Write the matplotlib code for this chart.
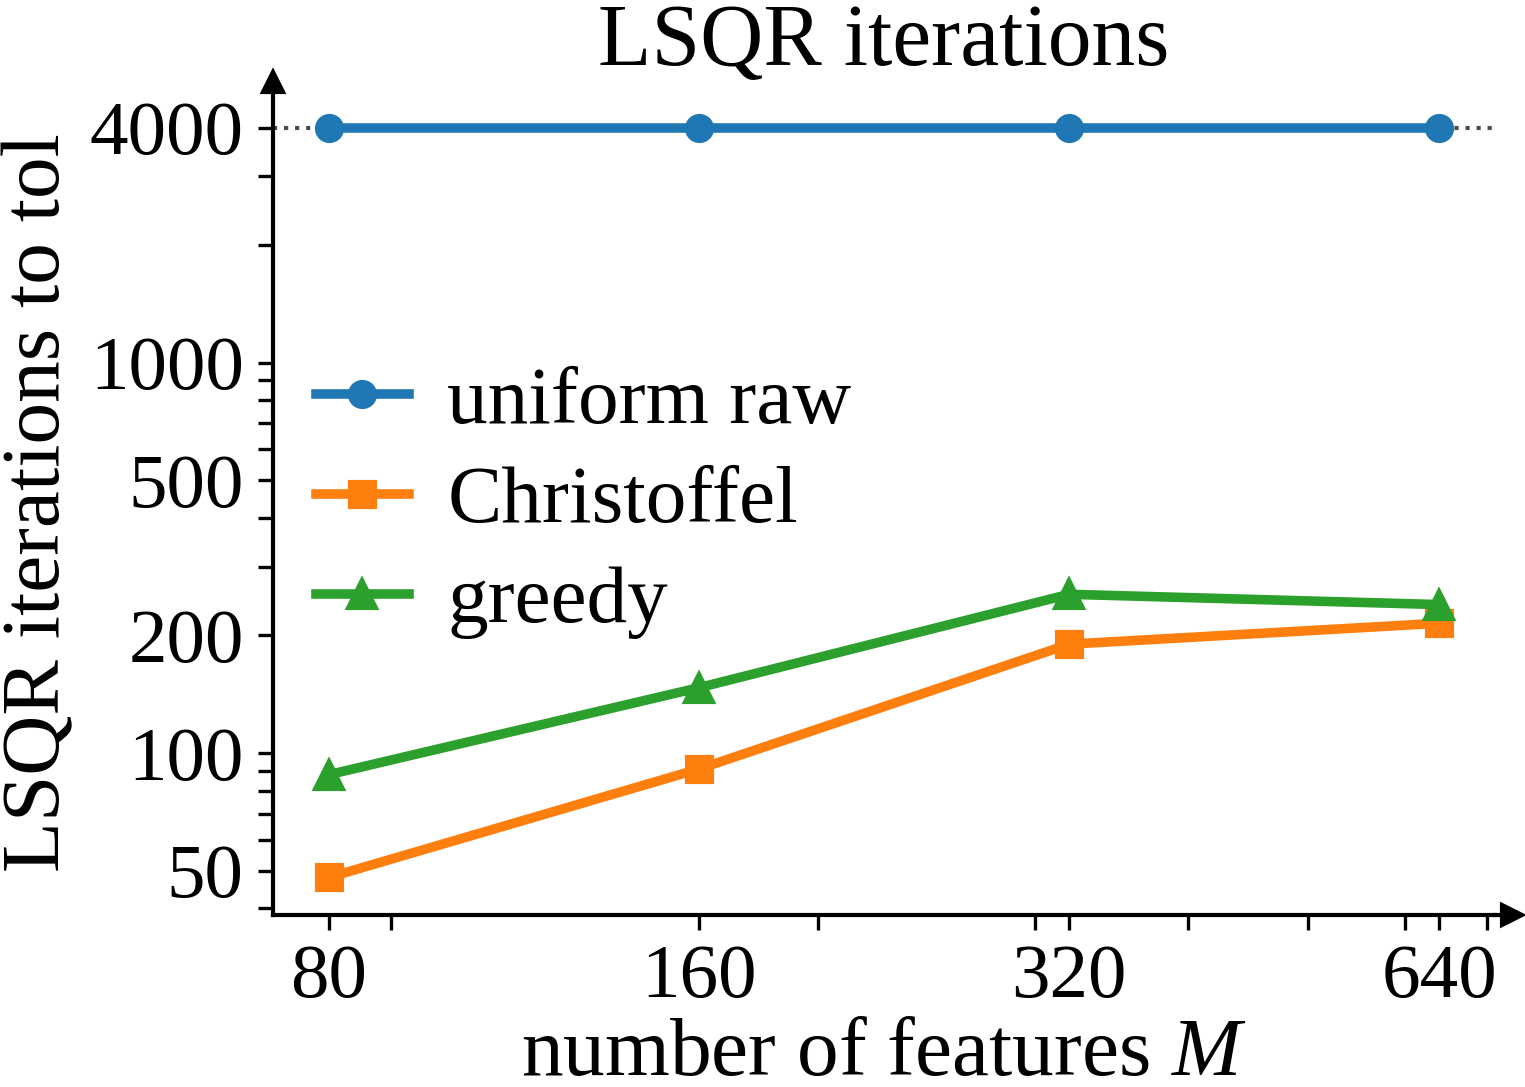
import matplotlib
matplotlib.use("Agg")
import matplotlib.pyplot as plt
from matplotlib.ticker import NullFormatter

plt.rcParams["font.family"] = ["Liberation Serif", "DejaVu Serif"]
plt.rcParams["mathtext.fontset"] = "custom"
plt.rcParams["mathtext.rm"] = "Liberation Serif"
plt.rcParams["mathtext.it"] = "Liberation Serif:italic"

# number of features
features = [80, 160, 320, 640]
# LSQR iterations needed to reach tol
uniform_raw = [4000, 4000, 4000, 4000]
christoffel = [48, 91, 190, 215]
greedy = [88, 147, 255, 240]
max_iter = 4000

xtick_labels = ["80", "160", "320", "640"]
ytick_vals = [50, 100, 200, 500, 1000, 4000]
ytick_labels = ["50", "100", "200", "500", "1000", "4000"]

fig = plt.figure(figsize=(1525 / 300, 1087 / 300), dpi=300)
ax = fig.add_axes([273 / 1525, 1 - 915 / 1087, (1495 - 273) / 1525, (915 - 90) / 1087])

ax.axhline(max_iter, ls=":", color="0.3", lw=1.0, zorder=1)
ax.plot(features, uniform_raw, "-o", lw=2.3, ms=6, label="uniform raw")
ax.plot(features, christoffel, "-s", lw=2.3, ms=6, label="Christoffel")
ax.plot(features, greedy, "-^", lw=2.3, ms=6.5, label="greedy")

ax.set_xscale("log")
ax.set_yscale("log")
ax.set_xticks(features)
ax.set_xticklabels(xtick_labels)
ax.set_yticks(ytick_vals)
ax.set_yticklabels(ytick_labels)
ax.xaxis.set_minor_formatter(NullFormatter())
ax.yaxis.set_minor_formatter(NullFormatter())
ax.tick_params(which="both", length=3.5, width=0.8, labelsize=18.5)

for side in ["top", "right"]:
    ax.spines[side].set_visible(False)
for side in ["left", "bottom"]:
    ax.spines[side].set_linewidth(1.0)

# arrow heads on the axes
ax.plot([1, 1.012], [0, 0], color="k", lw=1.0, transform=ax.transAxes, clip_on=False)
ax.plot([0, 0], [1, 1.008], color="k", lw=1.0, transform=ax.transAxes, clip_on=False)
ax.plot(1.014, 0, ">k", ms=5, transform=ax.transAxes, clip_on=False)
ax.plot(0, 1.0097, "^k", ms=5, transform=ax.transAxes, clip_on=False)

ax.set_xlabel("number of features $M$", fontsize=20, labelpad=1)
ax.set_ylabel("LSQR iterations to tol", fontsize=20, labelpad=3)
ax.set_title("LSQR iterations", fontsize=21)

ax.legend(loc="center left", bbox_to_anchor=(0.035, 0.5), frameon=False, fontsize=19.5,
          handlelength=1.15, handletextpad=0.47, labelspacing=0.32, borderpad=0, borderaxespad=0)

fig.savefig("out.png", dpi=300)
